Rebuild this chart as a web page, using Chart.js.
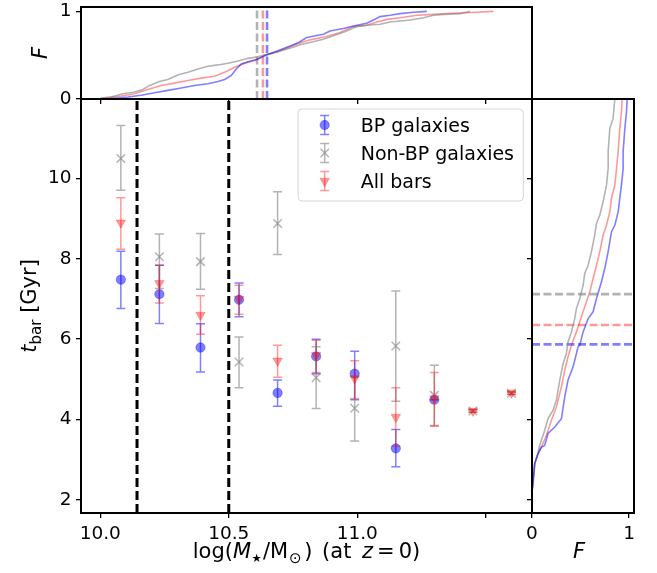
<!DOCTYPE html>
<html><head><meta charset="utf-8">
<script src="https://cdn.jsdelivr.net/npm/chart.js@4.4.1/dist/chart.umd.min.js"></script>
<style>
html,body{margin:0;padding:0;background:#fff;}
#wrap{position:relative;width:657px;height:573px;overflow:hidden;}
canvas{position:absolute;left:0;top:0;}
</style></head><body>
<div id="wrap">
<canvas id="cTop" width="657" height="573"></canvas>
<canvas id="cRight" width="657" height="573"></canvas>
<canvas id="cMain" width="657" height="573"></canvas>
</div>
<script>
// ---------------- data ----------------
const massBins = [10.08,10.23,10.39,10.54,10.69,10.84,10.99,11.15,11.30,11.45,11.60];
const bpT   = [7.48,7.12,5.79,6.98,4.66,5.57,5.14,3.28,4.49];
const bpLo  = [6.76,6.39,5.18,6.56,4.33,5.14,4.49,2.82,4.49];
const bpHi  = [8.19,7.84,6.38,7.40,4.98,6.00,5.70,3.75,4.49];
const nonT  = [10.50,8.05,7.93,5.43,8.88,5.04,4.28,5.83,4.60,4.21,4.65];
const nonLo = [9.71,7.26,7.24,4.79,8.11,4.27,3.46,4.45,3.85,4.18,4.62];
const nonHi = [11.32,8.62,8.63,6.05,9.67,5.81,5.06,7.20,5.35,4.24,4.68];
const allT  = [8.90,7.39,6.60,7.00,5.46,5.60,5.02,4.06,4.52,4.21,4.66];
const allLo = [8.24,6.90,6.12,6.62,5.05,5.17,4.52,3.33,3.83,4.18,4.63];
const allHi = [9.52,7.84,7.08,7.34,5.85,5.97,5.46,4.79,5.17,4.24,4.69];
const massCuts = [10.143, 10.5];

// cumulative fractions vs stellar mass (top panel)
const cdfMassBPx  = [10.0,10.04,10.107,10.159,10.211,10.263,10.315,10.367,10.419,10.458,10.484,10.510,10.529,10.549,10.575,10.614,10.640,10.691,10.756,10.777,10.803,10.868,10.894,10.946,10.985,11.037,11.063,11.089,11.128,11.167,11.219,11.271];
const cdfMassBPf  = [0,0.004,0.023,0.042,0.072,0.098,0.125,0.155,0.174,0.200,0.223,0.268,0.343,0.400,0.426,0.457,0.494,0.551,0.626,0.653,0.702,0.740,0.777,0.804,0.834,0.864,0.902,0.940,0.955,0.974,0.99,1.0];
const cdfMassAllx = [10.0,10.016,10.081,10.133,10.185,10.237,10.289,10.341,10.393,10.445,10.484,10.523,10.562,10.601,10.640,10.691,10.756,10.777,10.816,10.881,10.933,10.985,11.037,11.076,11.115,11.167,11.232,11.297,11.362,11.426,11.530];
const cdfMassAllf = [0,0.011,0.034,0.060,0.109,0.155,0.181,0.211,0.238,0.260,0.306,0.362,0.408,0.438,0.502,0.540,0.615,0.638,0.675,0.713,0.758,0.826,0.842,0.879,0.909,0.928,0.955,0.966,0.977,0.985,1.0];
const cdfMassNonx = [10.0,10.003,10.042,10.088,10.133,10.166,10.192,10.230,10.263,10.302,10.341,10.380,10.419,10.458,10.497,10.536,10.575,10.614,10.640,10.691,10.756,10.777,10.816,10.868,10.907,10.959,10.998,11.037,11.089,11.128,11.206,11.258,11.297,11.336,11.400,11.439];
const cdfMassNonf = [0,0.011,0.023,0.060,0.079,0.109,0.155,0.200,0.223,0.275,0.306,0.343,0.374,0.389,0.408,0.434,0.464,0.483,0.502,0.540,0.596,0.619,0.645,0.683,0.721,0.777,0.826,0.842,0.853,0.879,0.902,0.928,0.955,0.966,0.974,1.0];
const medMass = {non:10.61, all:10.633, bp:10.649};

// cumulative fractions vs bar age (right panel)
const cdfTNonF = [0,0.011,0.028,0.062,0.079,0.131,0.165,0.217,0.251,0.286,0.320,0.354,0.371,0.406,0.440,0.457,0.492,0.526,0.543,0.578,0.612,0.646,0.664,0.698,0.732,0.767,0.784,0.784,0.801,0.835,0.853];
const cdfTNonT = [2.2,2.48,2.90,3.15,3.35,3.73,4.02,4.23,4.48,4.98,5.39,5.64,5.93,6.18,6.51,6.76,7.01,7.34,7.64,7.84,8.18,8.59,8.88,9.09,9.42,9.84,10.25,10.67,11.25,11.50,12.0];
const cdfTAllF = [0,0.011,0.028,0.062,0.097,0.148,0.200,0.251,0.303,0.337,0.371,0.406,0.457,0.492,0.526,0.561,0.595,0.629,0.664,0.698,0.732,0.767,0.801,0.818,0.853,0.870,0.887,0.904,0.921,0.928];
const cdfTAllT = [2.2,2.48,2.90,3.15,3.31,3.60,3.98,4.31,4.81,5.22,5.56,5.85,6.18,6.43,6.68,6.93,7.18,7.51,7.84,8.18,8.59,8.84,9.17,9.51,9.84,10.25,10.67,11.25,11.67,12.0];
const cdfTBPF  = [0,0.011,0.028,0.062,0.097,0.131,0.165,0.234,0.303,0.337,0.371,0.423,0.475,0.492,0.526,0.578,0.629,0.664,0.715,0.749,0.784,0.818,0.853,0.887,0.904,0.921,0.938,0.938,0.956,0.973,0.980];
const cdfTBPT  = [2.2,2.40,2.90,3.15,3.31,3.35,3.65,3.81,4.02,4.56,4.98,5.31,5.81,5.85,6.18,6.51,6.68,7.01,7.43,7.76,8.18,8.67,8.84,9.17,9.51,9.84,10.25,10.67,11.25,11.67,12.0];
const medT = {non:7.12, all:6.35, bp:5.87};

// axes
const massTicks = [10.0,10.5,11.0,11.5];
const massTickLabels = ['10.0','10.5','11.0',''];
const tTicks = [2,4,6,8,10];
const tTickLabels = ['2','4','6','8','10'];
const fTicks = [0,1];
const fTickLabels = ['0','1'];
const xMin = 9.925, xMax = 11.68, yMin = 1.67, yMax = 11.98, fMin = 0, fMax = 1.05;

// ---------------- styles ----------------
const TFS = 18.5, LFS = 21, GFS = 19;
const FAM = '"DejaVu Sans"';
const C_BP = 'rgba(0,0,255,0.5)', C_NON = 'rgba(128,128,128,0.6)', C_ALL = 'rgba(255,0,0,0.4)';
Chart.defaults.font.family = 'DejaVu Sans';
Chart.defaults.font.size = TFS;
Chart.defaults.color = '#000';

function pts(xs, ys){ return xs.map((v,i)=>({x:v, y:ys[i]})); }

function axis(pos, min, max, ticks, labels, size){
  return {
    type:'linear', position:pos, min:min, max:max,
    afterBuildTicks: s => { s.ticks = ticks.map(v=>({value:v})); },
    afterFit: s => {
      if (pos==='left'||pos==='right') s.width = size; else s.height = size;
      s.paddingTop = 0; s.paddingBottom = 0; s.paddingLeft = 0; s.paddingRight = 0;
    },
    ticks: { display: !!labels, callback:(v,i)=> labels ? labels[i] : '', autoSkip:false, maxRotation:0, minRotation:0,
             padding: (pos==='left') ? 4.5 : 5, color:'#000', font:{family:'DejaVu Sans', size:TFS} },
    grid: { drawOnChartArea:false, drawTicks:true, tickLength:5, color:'#000', lineWidth:1.3 },
    border: { display:false }
  };
}

const framePlugin = {
  id:'frame',
  afterDraw(chart){
    const {ctx, chartArea:a} = chart;
    ctx.save(); ctx.strokeStyle = '#000'; ctx.lineWidth = 2;
    ctx.strokeRect(a.left, a.top, a.right-a.left, a.bottom-a.top);
    ctx.restore();
  }
};

function fontStr(p){ return (p.it ? 'italic ' : '') + (p.s || LFS) + 'px ' + FAM; }
function richWidth(ctx, parts){ let w = 0; for (const p of parts){ ctx.font = fontStr(p); w += (p.pre||0) + ctx.measureText(p.t).width + (p.gap||0); } return w; }
function drawRich(ctx, parts, x, y){
  for (const p of parts){ ctx.font = fontStr(p); x += (p.pre||0); ctx.fillText(p.t, x, y + (p.dy||0)); x += ctx.measureText(p.t).width + (p.gap||0); }
}

const SERIES = [
  {label:'BP galaxies', t:bpT, lo:bpLo, hi:bpHi, color:C_BP, marker:'circle'},
  {label:'Non-BP galaxies', t:nonT, lo:nonLo, hi:nonHi, color:C_NON, marker:'x'},
  {label:'All bars', t:allT, lo:allLo, hi:allHi, color:C_ALL, marker:'tri'}
];

const errorBarPlugin = {
  id:'errbars',
  beforeDatasetDraw(chart, args){
    const s = SERIES[args.index];
    if (!s) return;
    const {ctx, chartArea:a, scales:{x, y}} = chart;
    ctx.save();
    ctx.beginPath(); ctx.rect(a.left, a.top, a.right-a.left, a.bottom-a.top); ctx.clip();
    ctx.strokeStyle = s.color; ctx.lineWidth = 1.5;
    ctx.beginPath();
    s.t.forEach((v,i)=>{
      const px = x.getPixelForValue(massBins[i]);
      const p1 = y.getPixelForValue(s.lo[i]), p2 = y.getPixelForValue(s.hi[i]);
      ctx.moveTo(px, p1); ctx.lineTo(px, p2);
      ctx.moveTo(px-4.5, p1); ctx.lineTo(px+4.5, p1);
      ctx.moveTo(px-4.5, p2); ctx.lineTo(px+4.5, p2);
    });
    ctx.stroke();
    ctx.restore();
  }
};

function drawMarker(ctx, kind, color, x, y){
  ctx.save(); ctx.fillStyle = color; ctx.strokeStyle = color;
  if (kind==='circle'){ ctx.lineWidth = 0.6; ctx.beginPath(); ctx.arc(x, y, 4.7, 0, 2*Math.PI); ctx.fill(); ctx.stroke(); }
  else if (kind==='x'){ ctx.lineWidth = 1.5; const d = 4.2; ctx.beginPath(); ctx.moveTo(x-d,y-d); ctx.lineTo(x+d,y+d); ctx.moveTo(x-d,y+d); ctx.lineTo(x+d,y-d); ctx.stroke(); }
  else { ctx.lineWidth = 0.6; const r = 5.5; ctx.beginPath(); ctx.moveTo(x, y+r); ctx.lineTo(x - r*0.866, y - r/2); ctx.lineTo(x + r*0.866, y - r/2); ctx.closePath(); ctx.fill(); ctx.stroke(); }
  ctx.restore();
}

const mainTextPlugin = {
  id:'maintext',
  afterDraw(chart){
    const {ctx, chartArea:a} = chart;
    ctx.save();
    ctx.fillStyle = '#000'; ctx.textBaseline = 'alphabetic';
    // x axis title
    const SUB = LFS*0.72;
    const xp = [{t:'log('},{t:'M',it:1},{t:'\u2605',s:11.5,dy:LFS*0.2,pre:0.5,gap:1},{t:'/M'},{t:'\u2299',s:SUB,dy:LFS*0.22,pre:1,gap:2.5},
                {t:')',gap:3},{t:' (at ',gap:4},{t:'z',it:1,gap:4},{t:'=',gap:4},{t:'0)'}];
    const wx = richWidth(ctx, xp);
    drawRich(ctx, xp, (a.left+a.right)/2 - wx/2, 558);
    // bottom-right F
    const fp = [{t:'F',it:1}];
    const wf = richWidth(ctx, fp);
    drawRich(ctx, fp, 579 - wf/2, 558);
    // y axis title (rotated)
    const yp = [{t:'t',it:1},{t:'bar',s:SUB,dy:LFS*0.22},{t:' [Gyr]'}];
    const wy = richWidth(ctx, yp);
    ctx.save(); ctx.translate(36, (a.top+a.bottom)/2); ctx.rotate(-Math.PI/2);
    drawRich(ctx, yp, -wy/2, 0); ctx.restore();
    // top panel F (rotated)
    ctx.save(); ctx.translate(46.5, 53); ctx.rotate(-Math.PI/2);
    drawRich(ctx, fp, -wf/2, 0); ctx.restore();

    // legend
    ctx.font = GFS + 'px ' + FAM;
    let tw = 0; SERIES.forEach(s=>{ tw = Math.max(tw, ctx.measureText(s.label).width); });
    const right = a.right - 8.7, top = a.top + 10;
    const w = 62.6 + tw + 9.3, h = 92, left = right - w;
    ctx.beginPath();
    if (ctx.roundRect) ctx.roundRect(left, top, w, h, 4); else ctx.rect(left, top, w, h);
    ctx.fillStyle = 'rgba(255,255,255,0.8)'; ctx.fill();
    ctx.strokeStyle = 'rgba(204,204,204,0.8)'; ctx.lineWidth = 1; ctx.stroke();
    const rows = [16, 44, 72];
    SERIES.forEach((s,i)=>{
      const cy = top + rows[i], mx = left + 26.6;
      ctx.strokeStyle = s.color; ctx.lineWidth = 1.5;
      ctx.beginPath();
      ctx.moveTo(mx, cy-9.5); ctx.lineTo(mx, cy+9.5);
      ctx.moveTo(mx-4.5, cy-9.5); ctx.lineTo(mx+4.5, cy-9.5);
      ctx.moveTo(mx-4.5, cy+9.5); ctx.lineTo(mx+4.5, cy+9.5);
      ctx.stroke();
      drawMarker(ctx, s.marker, s.color, mx, cy);
      ctx.fillStyle = '#000'; ctx.font = GFS + 'px ' + FAM; ctx.textBaseline = 'alphabetic';
      ctx.fillText(s.label, left + 62.6, cy + 0.365*GFS);
    });
    ctx.restore();
  }
};

const commonOpts = { responsive:false, animation:false, events:[], plugins:{legend:{display:false}, tooltip:{enabled:false}} };

// ---------------- top panel ----------------
new Chart(document.getElementById('cTop'), {
  type:'scatter',
  data:{datasets:[
    {data:pts(cdfMassBPx, cdfMassBPf), showLine:true, pointRadius:0, borderColor:C_BP, borderWidth:1.6, tension:0},
    {data:pts(cdfMassNonx, cdfMassNonf), showLine:true, pointRadius:0, borderColor:C_NON, borderWidth:1.6, tension:0},
    {data:pts(cdfMassAllx, cdfMassAllf), showLine:true, pointRadius:0, borderColor:C_ALL, borderWidth:1.6, tension:0},
    {data:pts([medMass.bp, medMass.bp],[fMin,fMax]), showLine:true, pointRadius:0, borderColor:C_BP, borderWidth:2.6, borderDash:[8,3.5]},
    {data:pts([medMass.non, medMass.non],[fMin,fMax]), showLine:true, pointRadius:0, borderColor:C_NON, borderWidth:2.6, borderDash:[8,3.5]},
    {data:pts([medMass.all, medMass.all],[fMin,fMax]), showLine:true, pointRadius:0, borderColor:C_ALL, borderWidth:2.6, borderDash:[8,3.5]}
  ]},
  options: Object.assign({}, commonOpts, {
    layout:{padding:{left:21, right:125, top:7, bottom:469}, autoPadding:false},
    scales:{
      x: axis('bottom', xMin, xMax, massTicks, null, 5),
      y: axis('left', fMin, fMax, fTicks, fTickLabels, 60)
    }
  }),
  plugins:[framePlugin]
});

// ---------------- right panel ----------------
new Chart(document.getElementById('cRight'), {
  type:'scatter',
  data:{datasets:[
    {data:pts(cdfTBPF, cdfTBPT), showLine:true, pointRadius:0, borderColor:C_BP, borderWidth:1.6, tension:0},
    {data:pts(cdfTNonF, cdfTNonT), showLine:true, pointRadius:0, borderColor:C_NON, borderWidth:1.6, tension:0},
    {data:pts(cdfTAllF, cdfTAllT), showLine:true, pointRadius:0, borderColor:C_ALL, borderWidth:1.6, tension:0},
    {data:pts([fMin,fMax],[medT.bp, medT.bp]), showLine:true, pointRadius:0, borderColor:C_BP, borderWidth:2.6, borderDash:[8,3.5]},
    {data:pts([fMin,fMax],[medT.non, medT.non]), showLine:true, pointRadius:0, borderColor:C_NON, borderWidth:2.6, borderDash:[8,3.5]},
    {data:pts([fMin,fMax],[medT.all, medT.all]), showLine:true, pointRadius:0, borderColor:C_ALL, borderWidth:2.6, borderDash:[8,3.5]}
  ]},
  options: Object.assign({}, commonOpts, {
    layout:{padding:{left:527, right:23, top:99, bottom:20}, autoPadding:false},
    scales:{
      x: axis('bottom', fMin, fMax, fTicks, fTickLabels, 40),
      y: axis('left', yMin, yMax, tTicks, null, 5)
    }
  }),
  plugins:[framePlugin]
});

// ---------------- main panel ----------------
new Chart(document.getElementById('cMain'), {
  type:'scatter',
  data:{datasets:[
    {label:'BP galaxies', data:pts(massBins.slice(0,bpT.length), bpT), pointStyle:'circle', pointRadius:4.7,
     backgroundColor:C_BP, borderColor:C_BP, borderWidth:0.6, order:2},
    {label:'Non-BP galaxies', data:pts(massBins, nonT), pointStyle:'crossRot', pointRadius:6,
     backgroundColor:C_NON, borderColor:C_NON, borderWidth:1.5, order:1},
    {label:'All bars', data:pts(massBins, allT), pointStyle:'triangle', pointRotation:180, pointRadius:5.5,
     backgroundColor:C_ALL, borderColor:C_ALL, borderWidth:0.6, order:0},
    {label:'', data:pts([massCuts[0],massCuts[0]],[yMin,yMax]), showLine:true, pointRadius:0, borderColor:'#000', borderWidth:3, borderDash:[9,4], order:3},
    {label:'', data:pts([massCuts[1],massCuts[1]],[yMin,yMax]), showLine:true, pointRadius:0, borderColor:'#000', borderWidth:3, borderDash:[9,4], order:3}
  ]},
  options: Object.assign({}, commonOpts, {
    layout:{padding:{left:21, right:125, top:99, bottom:20}, autoPadding:false},
    scales:{
      x: axis('bottom', xMin, xMax, massTicks, massTickLabels, 40),
      y: axis('left', yMin, yMax, tTicks, tTickLabels, 60)
    }
  }),
  plugins:[errorBarPlugin, framePlugin, mainTextPlugin]
});
</script>
</body></html>
